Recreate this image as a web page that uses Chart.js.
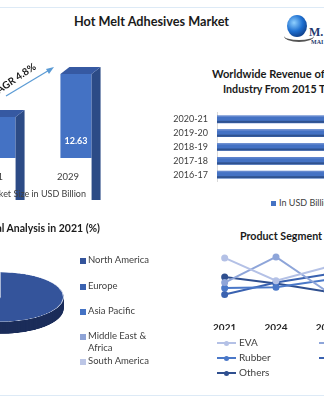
<!DOCTYPE html>
<html>
<head>
<meta charset="utf-8">
<script src="https://cdn.jsdelivr.net/npm/chart.js@4.4.0/dist/chart.umd.min.js"></script>
<style>
  body { margin:0; width:324px; height:405px; overflow:hidden; position:relative; background:#fff; font-family: Lato, 'Liberation Sans', sans-serif; color:#404040; }
  canvas { position:absolute; }
  .txt { position:absolute; white-space:nowrap; }
  .borda { position:absolute; left:0; width:324px; height:1px; background:#DDEAF6; }
  .quad { position:absolute; width:6px; height:6px; }
  .leg { position:absolute; font-size:9.5px; color:#404040; white-space:nowrap; }
  .linha { position:absolute; width:19px; height:2px; }
  .ponto { position:absolute; width:5px; height:5px; border-radius:50%; }
</style>
</head>
<body>
<div class="borda" style="top:7px"></div>
<div class="borda" style="top:395px"></div>

<div class="txt" style="left:74px; top:13px; font-size:12.7px; font-weight:bold; color:#1a1a1a">Hot Melt Adhesives Market</div>

<!-- logo -->
<div style="position:absolute; left:287px; top:15px; width:20px; height:22px; border-radius:50%; background:radial-gradient(circle at 35% 35%, #8fd0ff, #1e6fd0 45%, #0a2d6e 90%)"></div>
<div style="position:absolute; left:284px; top:30px; width:30px; height:10px; border-radius:50%; border-bottom:2px solid #555"></div>
<div class="txt" style="left:309px; top:25px; font:bold 12px 'Liberation Serif', serif; color:#1F3A6E">M.</div>
<div class="txt" style="left:311px; top:39px; font:bold 6px 'Liberation Serif', serif; color:#1F3A6E">MAI</div>

<!-- grafico 1 -->
<canvas id="barras" width="152" height="140" style="left:-38px; top:60px"></canvas>
<svg style="position:absolute; left:0; top:0" width="80" height="110">
  <line x1="6" y1="96" x2="51" y2="69" stroke="#5B9BD5" stroke-width="1.2"/>
  <polygon points="54,67 46,69 49,74" fill="#5B9BD5"/>
</svg>
<div class="txt" style="left:-5px; top:87px; font-size:10px; font-weight:bold; color:#1a1a1a; transform:rotate(-34deg); transform-origin:0 100%">CAGR 4.8%</div>
<div class="txt" style="right:238px; top:188px; font-size:9px">Market Size in USD Billion</div>

<!-- grafico 2 -->
<div class="txt" style="left:212px; top:67px; font-size:11.1px; font-weight:bold; color:#1a1a1a">Worldwide Revenue of Hot Melt Adhesives</div>
<div class="txt" style="left:223px; top:82px; font-size:10.7px; font-weight:bold; color:#1a1a1a">Industry From 2015 To 2021</div>
<canvas id="receita" width="200" height="98" style="left:172px; top:98px"></canvas>
<div class="quad" style="left:271px; top:201px; width:5px; height:5px; background:#4472C4"></div>
<div class="leg" style="left:279px; top:197px; font-size:9px">In USD Billion</div>

<!-- grafico 3 -->
<div class="txt" style="right:224px; top:222px; font-size:10.5px; font-weight:bold; color:#1a1a1a">Regional Analysis in 2021 (%)</div>
<canvas id="pizza" width="128" height="159" style="left:-64px; top:272px; transform:scaleY(0.39); transform-origin:0 0"></canvas>
<div id="legPizza"></div>

<!-- grafico 4 -->
<div class="txt" style="left:240px; top:229px; font-size:10.7px; font-weight:bold; color:#1a1a1a">Product Segment Analysis</div>
<canvas id="linhas" width="166" height="90" style="left:193px; top:240px"></canvas>
<div id="legLinhas"></div>

<script>
// Tamanho de mercado
const anos = ['2021', '2029']
const tamanhoMercado = [8.58, 12.63]

// Receita mundial
const periodos = ['2016-17', '2017-18', '2018-19', '2019-20', '2020-21']
const receita = [6.4, 6.8, 7.1, 7.5, 7.8]

// Analise regional
const regioes = ['North America', 'Europe', 'Asia Pacific', 'Middle East & Africa', 'South America']
const participacao = [52, 21, 17, 5, 5]

// Segmento de produto
const anosProduto = ['2021', '2024', '2027']
const eva = [11.4, 6.4, 9.4]
const poliolefinas = [6.0, 11.6, 4.0]
const borracha = [4.8, 5.0, 6.6]
const poliamida = [3.4, 6.0, 7.8]
const outros = [7.2, 5.8, 4.0]

const corTexto = '#404040'
Chart.defaults.font.family = 'Lato, "Liberation Sans", sans-serif'

/*--------------------------------------------------------------*/
//Barras 3D
const barras3D = {
    id: 'barras3D',
    afterDatasetsDraw(chart) {
        const ctx = chart.ctx
        const dx = 9, dy = -7
        chart.getDatasetMeta(0).data.forEach((bar, i) => {
            const left = bar.x - bar.width / 2
            const right = bar.x + bar.width / 2
            const top = bar.y
            const base = bar.base
            ctx.save()
            ctx.fillStyle = '#2C4B86'
            ctx.beginPath()
            ctx.moveTo(right, top)
            ctx.lineTo(right + dx, top + dy)
            ctx.lineTo(right + dx, base + dy)
            ctx.lineTo(right, base)
            ctx.closePath()
            ctx.fill()

            ctx.fillStyle = '#3659A2'
            ctx.beginPath()
            ctx.moveTo(left, top)
            ctx.lineTo(left + dx, top + dy)
            ctx.lineTo(right + dx, top + dy)
            ctx.lineTo(right, top)
            ctx.closePath()
            ctx.fill()

            ctx.fillStyle = '#fff'
            ctx.font = 'bold 9px Lato, "Liberation Sans", sans-serif'
            ctx.textAlign = 'center'
            ctx.textBaseline = 'middle'
            ctx.fillText(tamanhoMercado[i].toFixed(2), bar.x, (top + base) / 2)
            ctx.restore()
        })
    }
}

new Chart(document.getElementById('barras'), {
    type: 'bar',
    data: {
        labels: anos,
        datasets: [{
            data: tamanhoMercado,
            backgroundColor: '#4472C4',
            categoryPercentage: 1,
            barPercentage: 0.41
        }]
    },
    options: {
        responsive: false,
        devicePixelRatio: 1,
        animation: false,
        layout: { padding: { top: 7, left: 0, right: 0, bottom: 0 } },
        plugins: { legend: { display: false }, tooltip: { enabled: false } },
        scales: {
            x: {
                grid: { display: false, drawTicks: false },
                border: { display: false },
                ticks: { padding: 13, labelOffset: -8, color: corTexto, font: { size: 9.5 } },
                afterFit: scale => { scale.height = 42 }
            },
            y: { display: false, min: 4.7, max: 13.3 }
        }
    },
    plugins: [barras3D]
})

/*--------------------------------------------------------------*/
//Barras horizontais
const sombraBarra = {
    id: 'sombraBarra',
    afterDatasetsDraw(chart) {
        const ctx = chart.ctx
        chart.getDatasetMeta(0).data.forEach(bar => {
            const h = bar.height
            ctx.save()
            ctx.fillStyle = '#2F528F'
            ctx.fillRect(bar.base, bar.y + h / 2 - 2, bar.x - bar.base, 2)
            ctx.fillStyle = '#6A8CD0'
            ctx.fillRect(bar.base, bar.y - h / 2, bar.x - bar.base, 1)
            ctx.restore()
        })
    }
}

new Chart(document.getElementById('receita'), {
    type: 'bar',
    data: {
        labels: periodos,
        datasets: [{ data: receita, backgroundColor: '#4472C4', barThickness: 7 }]
    },
    options: {
        indexAxis: 'y',
        responsive: false,
        devicePixelRatio: 1,
        animation: false,
        layout: { padding: 0 },
        plugins: { legend: { display: false }, tooltip: { enabled: false } },
        scales: {
            x: { display: false, min: 0, max: 8 },
            y: {
                reverse: true,
                grid: { display: false, drawTicks: false },
                border: { display: true, color: '#D9D9D9', width: 1 },
                ticks: { padding: 9, color: corTexto, font: { size: 9 } },
                afterFit: scale => { scale.width = 45 }
            }
        }
    },
    plugins: [sombraBarra]
})

/*--------------------------------------------------------------*/
//Pizza 3D
const coresPizza = ['#34549B', '#3A62B0', '#4472C4', '#8EA3D6', '#BCC6E6']
const coresLado = ['#1B2D5A', '#243F78', '#2B4C8C', '#5A6FA0', '#7F8BAE']
const profundidade = 31

const ladoPizza = {
    id: 'ladoPizza',
    beforeDatasetsDraw(chart) {
        const ctx = chart.ctx
        chart.getDatasetMeta(0).data.forEach((arc, i) => {
            ctx.save()
            ctx.fillStyle = coresLado[i]
            for (let k = profundidade; k > 0; k -= 1) {
                ctx.beginPath()
                ctx.moveTo(arc.x, arc.y + k)
                ctx.arc(arc.x, arc.y + k, arc.outerRadius, arc.startAngle, arc.endAngle)
                ctx.closePath()
                ctx.fill()
            }
            ctx.restore()
        })
    }
}

new Chart(document.getElementById('pizza'), {
    type: 'pie',
    data: {
        labels: regioes,
        datasets: [{ data: participacao, backgroundColor: coresPizza, borderColor: '#D0D8EA', borderWidth: 1 }]
    },
    options: {
        responsive: false,
        devicePixelRatio: 1,
        animation: false,
        layout: { padding: { top: 0, left: 0, right: 0, bottom: profundidade } },
        plugins: { legend: { display: false }, tooltip: { enabled: false } }
    },
    plugins: [ladoPizza]
})

const legPizza = document.getElementById('legPizza')
const posLegPizza = [261, 287, 312, 337, 362]
regioes.forEach((nome, i) => {
    const q = document.createElement('div')
    q.className = 'quad'
    q.style.left = '80px'
    q.style.top = (posLegPizza[i] - 3) + 'px'
    q.style.background = coresPizza[i]
    legPizza.appendChild(q)

    const t = document.createElement('div')
    t.className = 'leg'
    t.style.left = '88px'
    t.style.top = (posLegPizza[i] - 7) + 'px'
    t.style.lineHeight = '12px'
    t.innerHTML = nome == 'Middle East & Africa' ? 'Middle East &amp;<br>Africa' : nome
    legPizza.appendChild(t)
})

/*--------------------------------------------------------------*/
//Linhas
const series = [
    { nome: 'EVA', dados: eva, cor: '#B4C1E6' },
    { nome: 'Polyolefins', dados: poliolefinas, cor: '#8EA5D9' },
    { nome: 'Rubber', dados: borracha, cor: '#4A78C8' },
    { nome: 'Polyamide', dados: poliamida, cor: '#3A62B0' },
    { nome: 'Others', dados: outros, cor: '#2F4F8F' }
]

new Chart(document.getElementById('linhas'), {
    type: 'line',
    data: {
        labels: anosProduto,
        datasets: series.map(s => ({
            label: s.nome,
            data: s.dados,
            borderColor: s.cor,
            backgroundColor: s.cor,
            borderWidth: 2,
            pointRadius: 2.5,
            tension: 0
        }))
    },
    options: {
        responsive: false,
        devicePixelRatio: 1,
        animation: false,
        layout: { padding: 0 },
        plugins: { legend: { display: false }, tooltip: { enabled: false } },
        scales: {
            x: {
                offset: true,
                grid: { display: false, drawTicks: false },
                border: { display: false },
                ticks: { padding: 12, color: '#262626', font: { size: 10, weight: 'bold' } },
                afterFit: scale => { scale.height = 20 }
            },
            y: { display: false, min: 0, max: 14 }
        }
    }
})

const legLinhas = document.getElementById('legLinhas')
series.forEach((s, i) => {
    const col = i % 2
    const lin = Math.floor(i / 2)
    const x = col == 0 ? 217 : 319
    const y = 343 + lin * 15

    const l = document.createElement('div')
    l.className = 'linha'
    l.style.left = x + 'px'
    l.style.top = (y - 1) + 'px'
    l.style.background = s.cor
    legLinhas.appendChild(l)

    const p = document.createElement('div')
    p.className = 'ponto'
    p.style.left = (x + 7) + 'px'
    p.style.top = (y - 2.5) + 'px'
    p.style.background = s.cor
    legLinhas.appendChild(p)

    const t = document.createElement('div')
    t.className = 'leg'
    t.style.left = (x + 22) + 'px'
    t.style.top = (y - 7) + 'px'
    t.style.lineHeight = '12px'
    t.style.fontSize = '10px'
    t.textContent = s.nome
    legLinhas.appendChild(t)
})
</script>
</body>
</html>
